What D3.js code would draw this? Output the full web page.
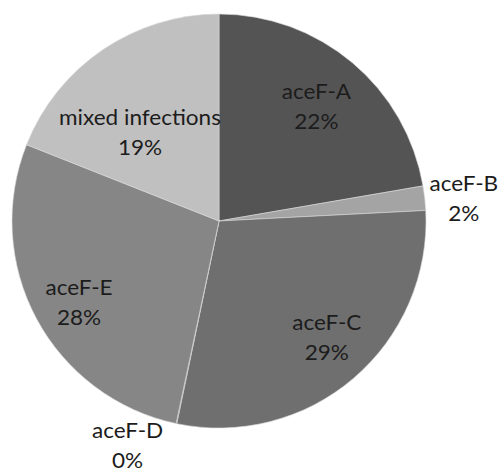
<!DOCTYPE html>
<html>
<head>
<meta charset="utf-8">
<script src="https://cdn.jsdelivr.net/npm/d3@7"></script>
<style>
  body { margin: 0; background: #fff; }
  text { font-family: Lato, "Open Sans", sans-serif; fill: #1c1c1c; }
</style>
</head>
<body>
<svg id="chart"></svg>
<script>
// slice order runs clockwise from 12 o'clock
const categories = ["aceF-A", "aceF-B", "aceF-C", "aceF-D", "aceF-E", "mixed infections"];
const shares = [22.3, 1.9, 29.1, 0.05, 27.7, 19.0];
const shareLabels = ["22%", "2%", "29%", "0%", "28%", "19%"];
const greys = ["#545454", "#a4a4a4", "#6f6f6f", "#7a7a7a", "#868686", "#c0c0c0"];

const width = 499, height = 470;
const cx = 219, cy = 221, R = 207;

// where the label sits: inside slice or outside, plus a small hand nudge
const labelPlace = {
  "aceF-A": {k: 0.73, dx: 0, dy: -3.5},
  "aceF-B": {k: 1.19, dx: 0, dy: 0},
  "aceF-C": {k: 0.73, dx: 9.5, dy: -2.7},
  "aceF-D": {k: 1.17, dx: -41.6, dy: -17.3},
  "aceF-E": {k: 0.73, dx: -6.8, dy: 5.6},
  "mixed infections": {k: 0.73, dx: 5.9, dy: 32}
};

const data = categories.map((c, i) => ({name: c, value: shares[i], label: shareLabels[i], color: greys[i]}));

const svg = d3.select("#chart").attr("width", width).attr("height", height);
const g = svg.append("g").attr("transform", `translate(${cx},${cy})`);

const pie = d3.pie().sort(null).value(d => d.value);
const arc = d3.arc().innerRadius(0).outerRadius(R);
const arcs = pie(data);

g.selectAll("path.slice")
  .data(arcs)
  .join("path")
  .attr("class", "slice")
  .attr("d", arc)
  .attr("fill", d => d.data.color)
  .attr("stroke", "#d8d8d8")
  .attr("stroke-width", 0.6);

const lbl = g.selectAll("text.lbl")
  .data(arcs)
  .join("text")
  .attr("class", "lbl")
  .attr("text-anchor", "middle")
  .style("font-size", "20.5px")
  .attr("transform", d => {
    const p = labelPlace[d.data.name];
    const a = (d.startAngle + d.endAngle) / 2;
    const x = Math.sin(a) * R * p.k + p.dx;
    const y = -Math.cos(a) * R * p.k + p.dy;
    return `translate(${x},${y}) scale(1.1,1)`;
  });

lbl.append("tspan").attr("x", 0).attr("y", -3).text(d => d.data.name);
lbl.append("tspan").attr("x", 0).attr("y", 27).text(d => d.data.label);
</script>
</body>
</html>
